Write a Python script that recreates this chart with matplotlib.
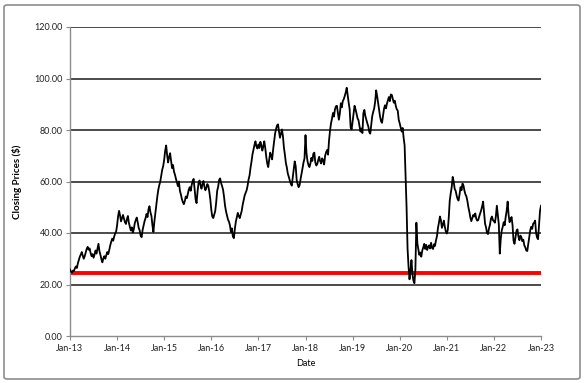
import matplotlib
matplotlib.use("Agg")
import matplotlib.pyplot as plt
from matplotlib.patches import FancyBboxPatch
import pandas as pd

# ---- data (weekly-ish closing prices) ----
start_date = "2013-01-01"
end_date = "2023-01-01"

p2013 = [25.8, 25.0, 24.6, 25.4, 25.2, 26.3, 27.0, 26.4, 28.2, 29.5, 30.8, 31.6,
         32.6, 31.2, 30.0, 31.0, 32.4, 33.8, 34.6, 33.5, 34.0, 32.2, 31.0, 31.8,
         30.4, 31.6, 33.2, 32.0, 34.0, 35.8, 33.0, 31.5, 29.8, 28.6, 30.2, 31.0,
         30.0, 31.4, 32.6, 31.8, 33.4, 35.2, 36.6, 37.8, 37.0, 38.6, 39.8, 40.5]
p2014 = [43.0, 46.5, 48.6, 46.8, 44.5, 45.8, 47.0, 45.6, 44.2, 43.5, 45.4, 46.6,
         44.0, 42.4, 41.0, 42.2, 40.2, 41.4, 43.8, 45.0, 46.0, 44.2, 42.0, 41.0,
         39.0, 38.4, 41.2, 43.0, 44.6, 45.8, 47.4, 46.2, 49.2, 50.4, 48.0, 46.6,
         43.0, 40.4, 44.5, 47.8, 51.0, 54.2, 56.8, 58.6, 60.0, 62.2, 64.6, 66.0]
p2015 = [68.5, 72.0, 74.0, 70.2, 67.4, 69.5, 71.0, 68.0, 65.2, 66.4, 63.8, 62.6,
         61.0, 59.6, 58.2, 60.0, 56.4, 55.0, 53.2, 52.0, 51.2, 52.4, 54.2, 53.5,
         55.0, 56.8, 57.8, 56.4, 58.6, 60.2, 61.0, 57.0, 53.0, 51.6, 56.2, 59.4,
         60.4, 58.6, 57.2, 59.0, 60.2, 58.0, 56.6, 57.6, 59.0, 58.2, 56.0, 53.0]
p2016 = [49.0, 46.4, 45.8, 47.2, 48.5, 52.0, 56.4, 58.0, 60.6, 61.2, 59.4, 58.2,
         56.8, 54.0, 50.6, 48.4, 46.8, 45.2, 44.4, 43.0, 40.4, 41.8, 38.6, 38.0,
         41.6, 44.4, 46.2, 47.8, 46.6, 45.8, 47.2, 48.6, 51.0, 52.8, 54.6, 55.6,
         56.6, 58.4, 60.8, 62.4, 65.4, 67.8, 70.6, 72.4, 74.2, 75.6, 73.6, 72.8]
p2017 = [74.4, 73.0, 75.4, 74.2, 72.0, 73.6, 75.6, 73.0, 69.6, 67.0, 65.6, 68.4,
         71.2, 70.0, 68.6, 72.4, 75.6, 78.6, 80.4, 81.8, 82.2, 79.4, 77.0, 78.6,
         80.2, 77.6, 73.2, 70.4, 67.2, 65.4, 63.0, 61.8, 60.4, 59.2, 58.4, 61.6,
         64.6, 67.8, 66.0, 60.6, 59.0, 57.8, 58.6, 61.0, 63.0, 65.2, 67.4, 69.0]
p2018 = [78.0, 71.0, 68.0, 66.4, 65.6, 67.0, 69.2, 68.0, 70.8, 71.2, 67.4, 66.2,
         66.8, 68.4, 69.6, 67.8, 67.0, 69.0, 68.2, 66.6, 70.0, 71.4, 72.2, 70.4,
         76.0, 79.8, 82.6, 84.4, 86.6, 85.2, 88.0, 89.2, 89.4, 86.8, 84.0, 86.4,
         90.4, 88.8, 91.2, 92.0, 93.2, 94.6, 96.4, 93.4, 90.6, 88.0, 81.0, 80.2]
p2019 = [83.2, 86.0, 89.4, 88.0, 86.4, 84.6, 83.8, 81.6, 79.4, 80.6, 78.8, 86.6,
         87.8, 85.4, 84.0, 82.6, 81.4, 79.2, 78.6, 82.0, 85.4, 87.0, 88.4, 91.0,
         95.4, 93.2, 90.6, 88.0, 85.2, 83.4, 82.8, 85.6, 88.2, 89.6, 88.4, 90.2,
         91.6, 92.8, 91.2, 93.8, 93.6, 92.0, 90.6, 91.4, 89.4, 88.0, 87.6, 84.0]
p2020 = [82.6, 81.0, 79.4, 80.8, 77.0, 74.0, 62.0, 50.0, 34.0, 27.0, 22.0, 25.5,
         29.5, 24.0, 21.5, 20.5, 26.0, 44.0, 36.0, 33.6, 31.5, 32.4, 30.8, 33.2,
         34.4, 35.8, 33.8, 35.4, 33.4, 34.6, 35.2, 34.0, 36.2, 34.2, 33.8, 35.6,
         35.0, 37.2, 38.8, 42.0, 44.0, 46.4, 45.0, 42.0, 43.2, 44.8, 42.4, 40.6]
p2021 = [39.8, 41.2, 46.0, 52.6, 55.4, 57.8, 61.8, 60.0, 57.2, 56.4, 54.6, 53.2,
         52.6, 55.0, 57.8, 56.6, 59.2, 58.4, 56.4, 55.0, 54.2, 52.4, 50.0, 48.2,
         46.0, 44.6, 45.8, 47.0, 46.4, 47.6, 45.6, 44.8, 45.0, 46.4, 47.6, 48.8,
         50.4, 52.2, 48.0, 43.6, 42.2, 40.0, 39.6, 41.8, 43.2, 45.6, 46.4, 45.0]
p2022 = [44.6, 44.0, 46.4, 50.6, 47.0, 43.4, 32.0, 37.8, 41.0, 42.4, 44.2, 43.0,
         46.2, 48.6, 52.2, 47.0, 44.2, 45.4, 46.2, 43.0, 37.0, 35.8, 38.4, 40.8,
         41.4, 38.6, 37.2, 39.0, 38.4, 36.8, 37.4, 35.2, 34.4, 33.2, 33.0, 35.6,
         38.4, 41.0, 42.4, 41.6, 43.6, 44.0, 44.8, 40.0, 38.2, 37.6, 43.4, 48.6]
p2023 = [50.6]

prices = p2013 + p2014 + p2015 + p2016 + p2017 + p2018 + p2019 + p2020 + p2021 + p2022 + p2023
dates = pd.date_range(start_date, end_date, periods=len(prices))

threshold = 24.5
y_ticks = [0, 20, 40, 60, 80, 100, 120]
x_ticks = pd.date_range(start_date, end_date, freq="YS")

# ---- figure ----
fig = plt.figure(figsize=(5.85, 3.83), dpi=100)
fig.patch.set_facecolor("white")
border = FancyBboxPatch((4 / 585, 4 / 383), 576 / 585, 374 / 383,
                        boxstyle="round,pad=0,rounding_size=0.006",
                        transform=fig.transFigure, facecolor="none",
                        edgecolor="#8c8c8c", linewidth=1.2)
fig.patches.append(border)

ax = fig.add_axes([70 / 585, 47 / 383, 471 / 585, 309 / 383])
font = "Lato"

for v in y_ticks[1:]:
    ax.axhline(v, color="#1a1a1a", linewidth=1.1, zorder=1)

ax.plot(dates, prices, color="black", linewidth=1.3, zorder=3)
ax.axhline(threshold, color="#ff0000", linewidth=2.8, zorder=2)

ax.set_xlim(pd.Timestamp(start_date), pd.Timestamp(end_date))
ax.set_ylim(0, 120)
ax.set_yticks(y_ticks)
ax.set_yticklabels([f"{v:.2f}" for v in y_ticks], fontsize=6.5, family=font)
ax.set_xticks(x_ticks)
ax.set_xticklabels([d.strftime("%b-%y") for d in x_ticks], fontsize=6.5, family=font)

for s in ["top", "right"]:
    ax.spines[s].set_visible(False)
for s in ["left", "bottom"]:
    ax.spines[s].set_color("#8c8c8c")
    ax.spines[s].set_linewidth(1.0)
ax.tick_params(axis="both", colors="#8c8c8c", length=3, width=0.8, labelcolor="#222222")
ax.tick_params(axis="y", pad=2)
ax.tick_params(axis="x", pad=3)

ax.set_ylabel("Closing Prices ($)", fontsize=7, fontweight="bold", family=font, labelpad=9)
ax.set_xlabel("Date", fontsize=6.5, family=font, labelpad=4)

fig.savefig("out.png", dpi=100)
